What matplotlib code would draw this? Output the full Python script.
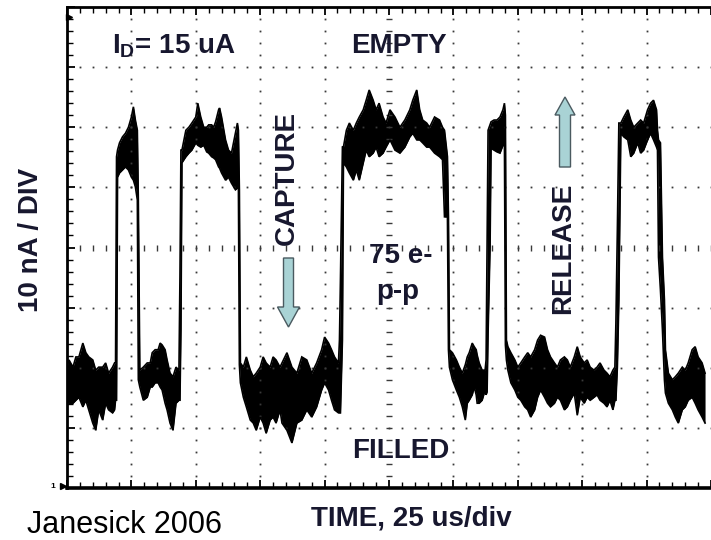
import numpy as np
import matplotlib
matplotlib.use("Agg")
import matplotlib.pyplot as plt
from matplotlib.patches import FancyArrow
from matplotlib.transforms import IdentityTransform

# ---------------- data (time in us, current in nA, 25 us/div, 10 nA/div) -------------
time_us = [
    0.00, 0.77, 2.31, 3.46, 4.62, 6.15, 7.31, 8.46, 10.00, 11.15, 12.31, 13.85, 15.00, 16.15,
    17.69, 18.46, 18.85, 19.23, 19.62,
    20.38, 21.54, 22.69, 23.85, 25.00, 25.77, 26.54, 27.31, 27.69, 28.27,
    29.62, 31.15, 32.31, 33.08, 34.23, 35.38, 36.15, 36.92, 38.08, 38.85, 40.00, 41.15,
    42.31, 43.46, 43.85, 44.23, 44.62,
    46.15, 47.31, 48.46, 50.00, 50.77, 51.92, 53.08, 54.23, 55.00, 56.15, 56.92, 57.69,
    58.85, 59.23, 60.00, 61.54, 62.69, 63.85, 65.38, 66.15, 66.54, 66.92, 67.31,
    68.46, 69.62, 71.15, 72.31, 73.46, 75.00, 76.15, 77.31, 78.85, 80.00, 81.15, 82.69,
    83.46, 85.38, 87.31, 89.23, 91.15, 93.08, 95.00, 96.92, 98.85, 100.00, 101.54, 102.69,
    103.85, 105.38, 105.77, 106.15, 106.92, 107.31,
    108.46, 109.62, 111.15, 112.31, 113.46, 115.00, 116.15, 117.31, 118.85, 120.00, 121.15,
    122.69, 123.85, 125.38, 127.31, 129.23, 131.15, 133.08, 134.23, 135.77, 136.92, 138.08,
    139.62, 140.77, 142.69, 144.62, 145.77, 146.54, 147.69, 148.08, 148.46,
    149.62, 151.15, 152.31, 153.46, 154.62, 155.38, 156.15, 157.31, 158.08, 158.85, 159.23,
    160.00, 161.15, 162.31, 162.69, 163.08, 163.46, 164.23, 164.62,
    165.77, 166.92, 168.08, 169.23, 169.81, 170.19, 170.58,
    171.15, 172.31, 173.85, 175.00, 176.15, 177.69, 178.85, 180.00, 181.54, 182.69, 183.85,
    185.38, 186.54, 187.69, 189.23, 190.38, 191.54, 193.08, 194.23, 195.38, 196.92, 198.08,
    199.23, 200.77, 201.92, 203.08, 204.62, 205.77, 206.92, 208.46, 209.62, 210.77, 211.92,
    212.69, 213.08, 213.65, 214.23, 215.00,
    216.15, 217.69, 218.85, 220.00, 221.54, 222.69, 223.85, 225.38, 226.54, 227.69, 228.85,
    229.23, 229.62, 230.38, 231.15, 231.92, 232.31,
    233.46, 235.00, 236.15, 237.31, 238.85, 240.00, 241.15, 242.69, 243.85, 245.00, 246.54,
    247.69,
]
current_hi_nA = [
    20.1, 21.3, 20.1, 21.8, 21.8, 24.1, 22.5, 21.8, 21.3, 19.6, 20.1, 20.1, 20.8, 19.1,
    20.1, 20.8, 20.8, 55.1, 56.2,
    57.4, 58.4, 59.0, 60.0, 61.7, 63.4, 61.2, 59.5, 47.9, 19.6,
    20.1, 20.8, 20.8, 22.5, 23.0, 23.0, 24.1, 23.8, 23.0, 21.3, 19.1, 18.5,
    20.1, 19.6, 35.1, 56.2, 56.2,
    59.5, 60.0, 60.7, 61.7, 64.0, 61.7, 60.0, 60.0, 60.4, 60.4, 60.0, 60.9,
    62.9, 63.2, 61.7, 57.9, 56.2, 55.7, 59.0, 60.7, 59.5, 49.6, 20.8,
    20.1, 21.8, 19.6, 18.5, 19.1, 20.1, 21.8, 20.8, 20.1, 21.8, 21.3, 20.1,
    20.8, 22.5, 20.1, 19.1, 21.8, 21.3, 19.1, 20.8, 23.0, 25.1, 24.1, 23.0,
    21.8, 20.8, 24.6, 34.6, 56.7, 56.7,
    59.5, 60.7, 59.5, 60.7, 61.7, 62.9, 64.5, 66.2, 64.5, 62.9, 64.0,
    61.7, 60.7, 62.9, 61.7, 60.0, 61.2, 62.9, 64.5, 66.2, 62.9, 61.2,
    60.7, 60.0, 61.7, 61.2, 60.0, 59.5, 55.1, 45.1, 23.0,
    22.5, 21.3, 20.1, 19.1, 20.5, 21.8, 22.5, 24.1, 23.5, 23.0, 22.1,
    20.8, 19.6, 19.6, 21.3, 40.1, 59.5, 60.4, 60.9,
    61.2, 61.2, 61.7, 62.9, 64.0, 62.0, 24.6,
    23.5, 22.5, 21.3, 20.1, 20.8, 21.8, 22.5, 21.8, 23.0, 24.6, 25.4,
    25.1, 23.0, 21.8, 20.8, 20.1, 21.3, 21.8, 21.3, 20.1, 21.8, 23.5,
    21.8, 20.8, 21.3, 20.1, 19.6, 20.1, 20.8, 19.6, 19.1, 18.5, 19.6,
    20.1, 27.4, 42.9, 60.7, 60.7,
    61.7, 62.9, 61.2, 60.0, 60.7, 61.2, 60.7, 62.9, 64.0, 64.5, 62.9,
    59.5, 57.9, 57.4, 38.4, 31.3, 23.0,
    19.1, 18.0, 18.5, 19.1, 20.1, 19.6, 20.8, 23.0, 23.5, 21.8, 20.8,
    19.1,
]
current_lo_nA = [
    15.1, 14.1, 14.1, 14.6, 15.1, 13.5, 14.6, 13.0, 10.8, 9.6, 13.0, 11.3, 14.1, 13.0,
    12.5, 13.0, 14.6, 14.6, 51.7,
    52.4, 52.9, 53.4, 52.9, 51.7, 51.2, 50.1, 47.9, 18.0, 16.8,
    14.6, 15.1, 16.8, 16.8, 17.5, 17.5, 16.8, 16.3, 14.1, 13.0, 10.8, 9.6,
    14.1, 14.6, 14.6, 26.3, 54.1,
    55.1, 55.7, 56.2, 57.4, 57.0, 56.7, 57.0, 55.9, 55.7, 55.1, 54.9, 54.6,
    53.4, 53.2, 52.4, 51.2, 51.7, 50.7, 49.6, 49.9, 50.1, 20.5, 17.5,
    15.1, 13.5, 11.3, 10.8, 9.6, 11.8, 10.8, 9.1, 11.3, 11.8, 10.8, 13.0,
    10.8, 9.6, 7.5, 10.8, 11.3, 13.0, 11.8, 13.5, 16.3, 17.5, 16.3, 14.6,
    13.0, 12.5, 12.5, 12.5, 24.6, 54.1,
    53.4, 52.4, 51.2, 52.9, 51.2, 54.1, 56.2, 55.1, 55.7, 56.7, 55.1,
    55.7, 56.7, 57.9, 56.2, 55.7, 56.7, 58.4, 59.0, 57.9, 57.9, 57.4,
    56.7, 56.7, 55.7, 55.1, 54.6, 45.1, 45.1, 23.0, 20.1,
    18.0, 16.3, 15.1, 13.5, 11.3, 14.1, 14.6, 15.5, 16.8, 15.5, 14.1,
    14.1, 14.6, 16.3, 15.5, 16.0, 25.8, 40.1, 56.5,
    56.2, 55.9, 55.7, 57.0, 57.9, 23.8, 21.3,
    19.6, 17.5, 16.3, 15.1, 14.6, 13.5, 13.0, 11.8, 13.0, 15.1, 16.3,
    15.1, 14.1, 13.5, 14.1, 15.1, 14.6, 13.0, 13.5, 14.6, 15.8, 12.1,
    15.1, 14.1, 15.1, 14.6, 15.1, 15.5, 14.6, 14.1, 13.5, 14.6, 13.0,
    14.6, 14.6, 20.1, 31.3, 59.0,
    58.4, 57.9, 55.1, 55.7, 57.4, 55.7, 56.2, 57.9, 59.0, 57.9, 56.7,
    56.2, 38.4, 32.9, 26.3, 18.0, 15.8,
    14.1, 13.0, 11.8, 10.8, 13.0, 13.5, 14.6, 15.1, 14.1, 13.0, 11.8,
    10.8,
]

labels = {
    "id": "I$_\\mathregular{D}$= 15 uA",
    "empty": "EMPTY",
    "filled": "FILLED",
    "capture": "CAPTURE",
    "release": "RELEASE",
    "amp_top": "75 e-",
    "amp_bot": "p-p",
    "xlabel": "TIME, 25 us/div",
    "ylabel": "10 nA / DIV",
    "credit": "Janesick 2006",
}

# ---------------- figure -------------------------------------------------------------
W, H = 711, 540
fig = plt.figure(figsize=(W / 100, H / 100), dpi=100)
ax = fig.add_axes([67 / W, (H - 488) / H, (W - 67) / W, (488 - 7) / H])

XMAX = 247.7
ax.set_xlim(0, XMAX)
ax.set_ylim(0, 80)

grid_col = "#3a3a3a"
# graticule dots
xminor = np.arange(0, 250.1, 5)
yminor = np.arange(0, 80.1, 2)
for gx in np.arange(25, 250, 25):
    if gx == 125:
        continue
    ax.plot(np.full_like(yminor, gx), yminor, ls="none", marker="s", ms=1.3,
            color=grid_col, mew=0, clip_on=True)
for gy in np.arange(10, 80, 10):
    if gy == 40:
        continue
    ax.plot(xminor, np.full_like(xminor, gy), ls="none", marker="s", ms=1.3,
            color=grid_col, mew=0, clip_on=True)
# centre axes with tick marks
ax.plot(np.full_like(yminor, 125), yminor, ls="none", marker="_", ms=4.5, mew=1.0,
        color=grid_col)
ax.plot(xminor, np.full_like(xminor, 40), ls="none", marker="|", ms=4.5, mew=1.0,
        color=grid_col)

# trace
t = np.array(time_us)
hi = np.array(current_hi_nA)
lo = np.array(current_lo_nA)
ax.fill_between(t, lo, hi, color="black", lw=0)
ax.plot(t, hi, color="black", lw=1.2, solid_joinstyle="miter")
ax.plot(t, lo, color="black", lw=1.2, solid_joinstyle="miter")

# frame and ticks
for side in ["left", "top", "bottom"]:
    ax.spines[side].set_linewidth(2.0)
    ax.spines[side].set_color("black")
ax.spines["bottom"].set_linewidth(2.6)
ax.spines["right"].set_visible(False)
ax.set_xticks(np.arange(0, 250.1, 25))
ax.set_xticks(xminor, minor=True)
ax.set_yticks(np.arange(0, 80.1, 10))
ax.set_yticks(yminor, minor=True)
ax.tick_params(which="both", direction="in", top=True, right=False,
               labelbottom=False, labelleft=False, color="black")
ax.tick_params(which="major", length=6, width=1.3)
ax.tick_params(which="minor", length=4, width=1.0)

# small scope markers
ax.plot([0.6], [78.3], marker=">", ms=5, color="black", clip_on=False)
ax.plot([-1.5], [0.3], marker=">", ms=4.5, color="black", clip_on=False)
fig.text(53 / W, 1 - 487 / H, "1", fontsize=6, fontweight="bold",
         ha="center", va="center", family="Liberation Sans")

# ---------------- texts ----------------------------------------------------------------
tc = "#17172e"
bold = dict(family="Liberation Sans", fontweight="bold", color=tc)
fs = 20

def ftext(px, py, s, **kw):
    fig.text(px / W, 1 - py / H, s, **kw)

ftext(174, 46, labels["id"], fontsize=fs, ha="center", va="center", **bold)
ftext(399, 46, labels["empty"], fontsize=fs, ha="center", va="center", **bold)
ftext(401, 451, labels["filled"], fontsize=fs, ha="center", va="center", **bold)
ftext(287, 178, labels["capture"], fontsize=fs, ha="center", va="center",
      rotation=90, **bold)
ftext(563, 248, labels["release"], fontsize=fs, ha="center", va="center",
      rotation=90, **bold)
ftext(401, 256, labels["amp_top"], fontsize=fs, ha="center", va="center", **bold)
ftext(398, 292, labels["amp_bot"], fontsize=fs, ha="center", va="center", **bold)
ftext(411, 518, labels["xlabel"], fontsize=fs, ha="center", va="center", **bold)
ftext(31, 240, labels["ylabel"], fontsize=fs, ha="center", va="center",
      rotation=90, **bold)
ftext(27, 533, labels["credit"], fontsize=22, ha="left", va="baseline",
      family="Liberation Sans", color="black")

# arrows (pixel-based styling)
arrow_fc = "#a9d3d5"
arrow_ec = "#4a5a60"
cap = FancyArrow(288.5, H - 258, 0, -69, width=10, head_width=22, head_length=20,
                 length_includes_head=True, fc=arrow_fc, ec=arrow_ec, lw=1.0,
                 transform=IdentityTransform())
rel = FancyArrow(565, H - 167, 0, 70, width=11, head_width=20, head_length=18,
                 length_includes_head=True, fc=arrow_fc, ec=arrow_ec, lw=1.0,
                 transform=IdentityTransform())
fig.add_artist(cap)
fig.add_artist(rel)

fig.savefig("out.png", dpi=100)
